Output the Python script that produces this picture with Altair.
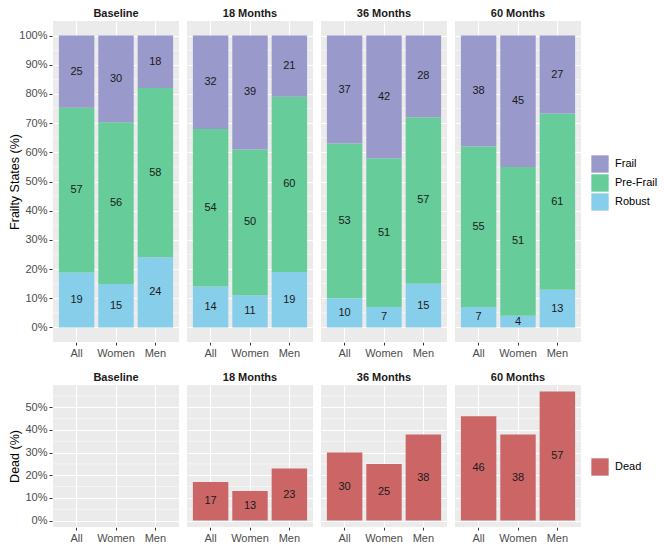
import altair as alt
import pandas as pd

times = ["Baseline", "18 Months", "36 Months", "60 Months"]
groups = ["All", "Women", "Men"]
states = ["Frail", "Pre-Frail", "Robust"]
state_colors = ["#9999CC", "#66CC99", "#87CEEB"]
robust = [19, 15, 24, 14, 11, 19, 10, 7, 15, 7, 4, 13]
prefrail = [57, 56, 58, 54, 50, 60, 53, 51, 57, 55, 51, 61]
frail = [25, 30, 18, 32, 39, 21, 37, 42, 28, 38, 45, 27]
dead = [None, None, None, 17, 13, 23, 30, 25, 38, 46, 38, 57]
dead_color = "#CC6666"

rows = []
dead_rows = []
i = 0
for t in times:
    for g in groups:
        for s, vals, o in [("Robust", robust, 0), ("Pre-Frail", prefrail, 1), ("Frail", frail, 2)]:
            rows.append({"time": t, "group": g, "state": s, "value": vals[i], "order": o})
        dead_rows.append({"time": t, "group": g, "state": "Dead",
                          "value": dead[i], "frac": (dead[i] / 100.0) if dead[i] is not None else None})
        i += 1
df = pd.DataFrame(rows)
ddf = pd.DataFrame(dead_rows)

FONT = "Liberation Sans"
PW = 126
xscale = alt.Scale(paddingInner=0.1, paddingOuter=0.15)
xaxis = alt.Axis(title=None, labelAngle=0, labelFontSize=11, labelColor="#4D4D4D", labelFont=FONT,
                 tickColor="#333333", tickSize=3, domain=False, grid=True, gridColor="white",
                 gridWidth=1.1, bandPosition=0.5, labelPadding=2)


def yaxis(title, maxv, tpad):
    n = int(round(maxv * 10))
    return alt.Axis(
        title=title, values=[k / 10 for k in range(n + 1)], format=".0%",
        labelOverlap=False,
        labelFontSize=11, labelColor="#4D4D4D", labelFont=FONT, domain=False,
        tickColor="#333333", tickSize=3,
        gridColor="white", gridWidth=1.1,
        titleFontSize=12.5, titleFontWeight="normal", titleFont=FONT, titleColor="black",
        labelPadding=2, titlePadding=tpad)


def minor_expr(maxv):
    n = int(round(maxv * 10))
    return "[" + ",".join(str(round(0.05 + k / 10, 2)) for k in range(n)) + "]"


header = alt.Header(title=None, labelFontWeight="bold", labelFontSize=11, labelFont=FONT,
                    labelColor="#1A1A1A", labelPadding=2)


def legend(y):
    return alt.Legend(title=None, orient="none", legendX=PW * 4 + 18 + 16, legendY=y,
                      symbolType="square", symbolSize=300, symbolStrokeWidth=0,
                      symbolOpacity=1, labelFontSize=11, labelFont=FONT,
                      labelColor="black", rowPadding=1, labelOffset=6)


top_y = alt.Scale(domain=[-0.05, 1.05], nice=False, zero=False)
top_axis = yaxis("Frailty States (%)", 1.0, -3)

minor_top = alt.Chart().transform_filter(
    "datum.state == 'Robust' && datum.group == 'All'"
).transform_calculate(
    minor=minor_expr(1.0)
).transform_flatten(["minor"]).mark_rule(color="white", strokeWidth=0.55).encode(
    y=alt.Y("minor:Q", scale=top_y, axis=top_axis),
    x=alt.value(0), x2=alt.value(PW),
)
bars = alt.Chart().mark_bar().encode(
    x=alt.X("group:N", sort=groups, scale=xscale, axis=xaxis),
    y=alt.Y("y0:Q", scale=top_y, axis=top_axis),
    y2="y1:Q",
    color=alt.Color("state:N", scale=alt.Scale(domain=states, range=state_colors),
                    legend=legend(134)),
)
texts = alt.Chart().mark_text(fontSize=11, font=FONT, color="#1A1A1A").encode(
    x=alt.X("group:N", sort=groups, scale=xscale, axis=xaxis),
    y=alt.Y("mid:Q", scale=top_y, axis=top_axis),
    text="value:Q",
)
top = alt.layer(minor_top, bars, texts, data=df).transform_joinaggregate(
    total="sum(value)", groupby=["time", "group"]
).transform_calculate(
    pct="datum.value / datum.total"
).transform_stack(
    stack="pct", as_=["y0", "y1"], groupby=["time", "group"],
    sort=[alt.SortField("order", order="ascending")]
).transform_calculate(
    mid="(datum.y0 + datum.y1) / 2"
).properties(width=PW, height=321).facet(
    column=alt.Column("time:N", sort=times, header=header), spacing=6
)

bot_y = alt.Scale(domain=[-0.0285, 0.5985], nice=False, zero=False)
bot_axis = yaxis("Dead (%)", 0.5, 3)

minor_bot = alt.Chart().transform_filter(
    "datum.group == 'All'"
).transform_calculate(
    minor=minor_expr(0.6)
).transform_flatten(["minor"]).mark_rule(color="white", strokeWidth=0.55).encode(
    y=alt.Y("minor:Q", scale=bot_y, axis=bot_axis),
    x=alt.value(0), x2=alt.value(PW),
)
dbars = alt.Chart().mark_bar().encode(
    x=alt.X("group:N", sort=groups, scale=xscale, axis=xaxis),
    y=alt.Y("frac:Q", scale=bot_y, axis=bot_axis),
    y2=alt.datum(0),
    color=alt.Color("state:N", scale=alt.Scale(domain=["Dead"], range=[dead_color]),
                    legend=legend(73)),
)
dtexts = alt.Chart().mark_text(fontSize=11, font=FONT, color="#1A1A1A").transform_filter(
    "isValid(datum.frac)"
).transform_calculate(
    mid="datum.frac / 2"
).encode(
    x=alt.X("group:N", sort=groups, scale=xscale, axis=xaxis),
    y=alt.Y("mid:Q", scale=bot_y, axis=bot_axis),
    text="value:Q",
)
bottom = alt.layer(minor_bot, dbars, dtexts, data=ddf).properties(width=PW, height=142).facet(
    column=alt.Column("time:N", sort=times, header=header), spacing=6
)

chart = alt.vconcat(top, bottom, spacing=14).resolve_scale(color="independent").properties(
    padding={"left": 0, "top": 0, "right": 0, "bottom": 0}
).configure_view(fill="#EBEBEB", stroke=None)

chart.save("out.html", embed_options={"renderer": "svg", "actions": False})
